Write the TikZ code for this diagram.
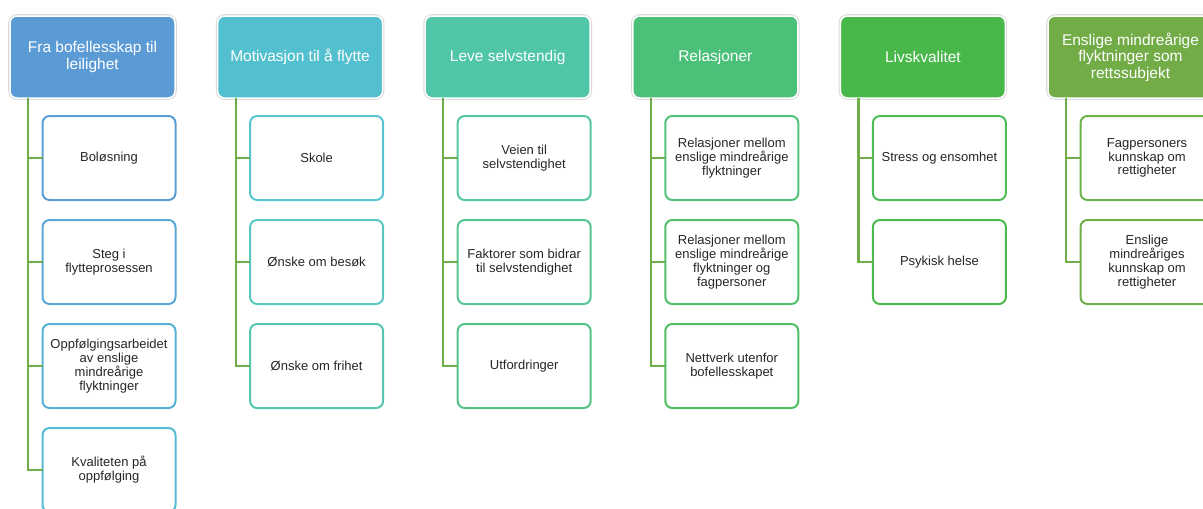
\documentclass[tikz,border=0pt]{standalone}
\usepackage{fontspec}
\setmainfont{Liberation Sans}
\usepackage{tikz}

\definecolor{hA}{HTML}{5B9BD5}
\definecolor{hB}{HTML}{53C0CF}
\definecolor{hC}{HTML}{4FC6A8}
\definecolor{hD}{HTML}{4BC079}
\definecolor{hE}{HTML}{48B84A}
\definecolor{hF}{HTML}{72AC47}
\definecolor{stem}{HTML}{70AF48}

\tikzset{
  head/.style={draw=white, line width=1.5pt, rounded corners=7pt,
    preaction={draw=black!14, line width=3.6pt, rounded corners=7pt},
    minimum width=165pt, minimum height=82pt, outer sep=0pt,
    text=white, align=center, anchor=north west,
    font=\fontsize{15.5}{16.5}\selectfont},
  leaf/.style={draw=#1, line width=2pt, rounded corners=7pt, fill=white,
    minimum width=133pt, minimum height=84pt, outer sep=0pt,
    text=black!85, align=center, anchor=north west,
    font=\fontsize{13}{13.8}\selectfont},
  stemline/.style={draw=stem, line width=2.2pt}
}

\begin{document}
\begin{tikzpicture}[x=1pt, y=-1pt]
        \def \dx {207.6}
        \def \gap {104}
        \useasboundingbox (0,0) rectangle (1203,509);

        % category headers
        \foreach \c/\clr/\txt in {1/hA/{Fra bofellesskap til\\leilighet},
            2/hB/{Motivasjon til å flytte}, 3/hC/{Leve selvstendig},
            4/hD/{Relasjoner}, 5/hE/{Livskvalitet},
            6/hF/{Enslige mindreårige\\flyktninger som\\rettssubjekt}}{
          \node[head, fill=\clr] (h\c) at ({10+\dx*(\c-1)}, 16) {\txt};
        }

        % sub themes
        \foreach \c/\r/\clr/\txt in {
            1/1/{5B9ED6}/{Boløsning},
            1/2/{5AA8D6}/{Steg i\\flytteprosessen},
            1/3/{58B1D6}/{Oppfølgingsarbeidet\\av enslige\\mindreårige\\flyktninger},
            1/4/{55BCD5}/{Kvaliteten på\\oppfølging},
            2/1/{55C6D1}/{Skole},
            2/2/{55C8C0}/{Ønske om besøk},
            2/3/{55C6AE}/{Ønske om frihet},
            3/1/{55C7A3}/{Veien til\\selvstendighet},
            3/2/{54C593}/{Faktorer som bidrar\\til selvstendighet},
            3/3/{53C385}/{Utfordringer},
            4/1/{52C278}/{Relasjoner mellom\\enslige mindreårige\\flyktninger},
            4/2/{50C06C}/{Relasjoner mellom\\enslige mindreårige\\flyktninger og\\fagpersoner},
            4/3/{4EBE61}/{Nettverk utenfor\\bofellesskapet},
            5/1/{4DBC56}/{Stress og ensomhet},
            5/2/{4CBA4E}/{Psykisk helse},
            6/1/{6CB34A}/{Fagpersoners\\kunnskap om\\rettigheter},
            6/2/{70AE48}/{Enslige\\mindreåriges\\kunnskap om\\rettigheter}}{
          \definecolor{tmp}{HTML}{\clr}
          \node[leaf=tmp] (k\c-\r) at ({42.5+\dx*(\c-1)}, {116+\gap*(\r-1)}) {\txt};
          \draw[stemline] ([xshift=18pt]h\c.south west) |- (k\c-\r.west);
        }
\end{tikzpicture}
\end{document}
